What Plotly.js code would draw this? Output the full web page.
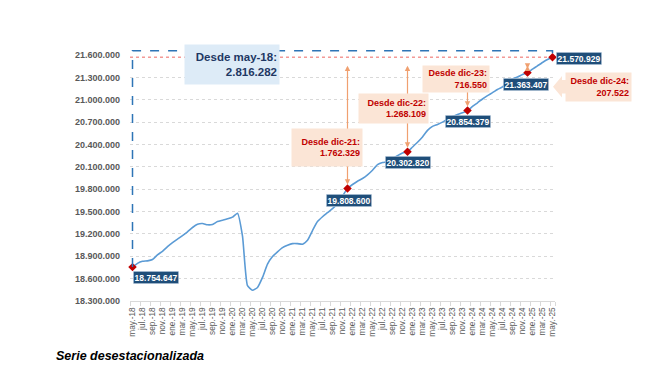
<!DOCTYPE html>
<html>
<head>
<meta charset="utf-8">
<script src="https://cdn.plot.ly/plotly-3.0.1.min.js"></script>
<style>
  html, body { margin: 0; padding: 0; background: #ffffff; }
  #chart { width: 659px; height: 371px; }
</style>
</head>
<body>
<div id="chart"></div>
<script>
// ---------------- DATA ----------------
const months = [
  'may.-18','jun.-18','jul.-18','ago.-18','sep.-18','oct.-18','nov.-18','dic.-18',
  'ene.-19','feb.-19','mar.-19','abr.-19','may.-19','jun.-19','jul.-19','ago.-19','sep.-19','oct.-19','nov.-19','dic.-19',
  'ene.-20','feb.-20','mar.-20','abr.-20','may.-20','jun.-20','jul.-20','ago.-20','sep.-20','oct.-20','nov.-20','dic.-20',
  'ene.-21','feb.-21','mar.-21','abr.-21','may.-21','jun.-21','jul.-21','ago.-21','sep.-21','oct.-21','nov.-21','dic.-21',
  'ene.-22','feb.-22','mar.-22','abr.-22','may.-22','jun.-22','jul.-22','ago.-22','sep.-22','oct.-22','nov.-22','dic.-22',
  'ene.-23','feb.-23','mar.-23','abr.-23','may.-23','jun.-23','jul.-23','ago.-23','sep.-23','oct.-23','nov.-23','dic.-23',
  'ene.-24','feb.-24','mar.-24','abr.-24','may.-24','jun.-24','jul.-24','ago.-24','sep.-24','oct.-24','nov.-24','dic.-24',
  'ene.-25','feb.-25','mar.-25','abr.-25','may.-25'
];

const afiliados = [
  18754647, 18805000, 18832000, 18838000, 18856000, 18920000, 18966000, 19028000,
  19082000, 19130000, 19176000, 19228000, 19286000, 19330000, 19340000, 19322000, 19327000, 19366000, 19384000, 19402000,
  19425000, 19478000, 19170000, 18505000, 18445000, 18482000, 18616000, 18794000, 18896000, 18959000, 19016000, 19048000,
  19070000, 19070000, 19061000, 19115000, 19245000, 19365000, 19430000, 19484000, 19538000, 19609000, 19707000, 19808600,
  19863000, 19907000, 19943000, 19992000, 20054000, 20130000, 20158000, 20166000, 20206000, 20250000, 20286000, 20302820,
  20366000, 20429000, 20500000, 20589000, 20642000, 20669000, 20700000, 20740000, 20776000, 20803000, 20825000, 20854379,
  20910000, 20959000, 21010000, 21055000, 21095000, 21137000, 21173000, 21235000, 21280000, 21305000, 21338000, 21363407,
  21410000, 21455000, 21500000, 21540000, 21570929
];

// highlighted months (reference points)
const hitos = ['may.-18', 'dic.-21', 'dic.-22', 'dic.-23', 'dic.-24', 'may.-25'];
const hitoNombres = ['may-18', 'dic-21', 'dic-22', 'dic-23', 'dic-24'];

const xTickLabels = [
  'may.-18','jul.-18','sep.-18','nov.-18','ene.-19','mar.-19','may.-19','jul.-19','sep.-19','nov.-19',
  'ene.-20','mar.-20','may.-20','jul.-20','sep.-20','nov.-20','ene.-21','mar.-21','may.-21','jul.-21',
  'sep.-21','nov.-21','ene.-22','mar.-22','may.-22','jul.-22','sep.-22','nov.-22','ene.-23','mar.-23',
  'may.-23','jul.-23','sep.-23','nov.-23','ene.-24','mar.-24','may.-24','jul.-24','sep.-24','nov.-24',
  'ene.-25','mar.-25','may.-25'
];

const yTicks = [18300000, 18600000, 18900000, 19200000, 19500000, 19800000, 20100000,
                20400000, 20700000, 21000000, 21300000, 21600000];

const footnote = 'Serie desestacionalizada';

// ---------------- HELPERS ----------------
const ML = 130, MT = 55, W = 425, H = 246, FW = 659, FH = 371;
const Y0 = yTicks[0], Y1 = yTicks[yTicks.length - 1];
const N = months.length;
const px = x => (x - ML) / W;
const py = y => (MT + H - y) / H;
const fmt = n => String(Math.round(n)).replace(/\B(?=(\d{3})+(?!\d))/g, '.');
const idx = m => months.indexOf(m);
const paperX = i => (i + 0.5) / N;
const paperY = v => (v - Y0) / (Y1 - Y0);

const xIdx = months.map((m, i) => i);
const hitoIdx = hitos.map(idx);
const hitoVals = hitoIdx.map(i => afiliados[i]);
const lastVal = afiliados[N - 1];

// ---------------- TRACES ----------------
const traces = [
  {
    type: 'scatter', mode: 'lines',
    x: xIdx, y: afiliados,
    line: { color: '#5B9BD5', width: 1.6, shape: 'spline', smoothing: 0.5 },
    hoverinfo: 'skip', showlegend: false
  },
  {
    type: 'scatter', mode: 'markers',
    x: hitoIdx, y: hitoVals,
    marker: { symbol: 'diamond', size: 6.5, color: '#C00000' },
    cliponaxis: false, hoverinfo: 'skip', showlegend: false
  }
];

// ---------------- SHAPES ----------------
const iFirst = hitoIdx[0], iLast = hitoIdx[hitoIdx.length - 1];
const topY = 1.0175;
const shapes = [
  { type: 'line', xref: 'x', yref: 'y', x0: -0.5, x1: iLast, y0: lastVal, y1: lastVal,
    line: { color: '#E8403A', width: 0.8, dash: 'dot' }, layer: 'below' },
  { type: 'path', xref: 'paper', yref: 'paper',
    path: `M ${paperX(iFirst)},${paperY(afiliados[iFirst])} L ${paperX(iFirst)},${topY} L ${paperX(iLast)},${topY} L ${paperX(iLast)},${paperY(lastVal)}`,
    line: { color: '#2E75B6', width: 1.5, dash: 'dash' } },
  // pointer of the "Desde dic-24" callout
  { type: 'path', xref: 'paper', yref: 'paper',
    path: `M ${px(553)},${py(86.7)} L ${px(562)},${py(76)} L ${px(562)},${py(80)} L ${px(566)},${py(80)} L ${px(566)},${py(93.5)} L ${px(562)},${py(93.5)} L ${px(562)},${py(97.5)} Z`,
    fillcolor: '#FBE5D6', line: { width: 0 } }
];

// ---------------- ANNOTATIONS ----------------
const annotations = [];

// vertical double arrows from last level to each December point
[1, 2, 3, 4].forEach(k => {
  const i = hitoIdx[k];
  annotations.push({
    x: i, y: afiliados[i], xref: 'x', yref: 'y',
    ax: i, ay: lastVal, axref: 'x', ayref: 'y',
    text: ' ', showarrow: true, arrowside: 'end+start',
    arrowhead: 2, startarrowhead: 2, arrowsize: 0.9, startarrowsize: 0.9,
    arrowwidth: 1.2, arrowcolor: '#F0A070', standoff: 4, startstandoff: 0
  });
});

// callout boxes with differences
const callouts = [
  { k: 1, cx: 327, cy: 147, w: 72, h: 37 },
  { k: 2, cx: 393.5, cy: 108, w: 71, h: 29 },
  { k: 3, cx: 455.5, cy: 79, w: 68, h: 26 },
  { k: 4, cx: 598.5, cy: 86.7, w: 67, h: 28 }
];
callouts.forEach(c => {
  const diff = lastVal - afiliados[hitoIdx[c.k]];
  annotations.push({
    xref: 'paper', yref: 'paper', x: px(c.cx), y: py(c.cy),
    xanchor: 'center', yanchor: 'middle',
    text: `Desde ${hitoNombres[c.k]}:<br>${fmt(diff)}`,
    showarrow: false, align: 'right', valign: 'middle',
    width: c.w - 6, height: c.h - 4, borderpad: 2,
    bgcolor: '#FBE5D6',
    font: { family: 'Liberation Sans, Arial, sans-serif', size: 9, color: '#C00000', weight: 'bold' }
  });
});

// big blue callout
annotations.push({
  xref: 'paper', yref: 'paper', x: px(232), y: py(64.5),
  xanchor: 'center', yanchor: 'middle',
  text: `Desde ${hitoNombres[0]}:<br>${fmt(lastVal - afiliados[iFirst])}`,
  showarrow: false, align: 'right', valign: 'middle',
  width: 90, height: 35, borderpad: 2, bgcolor: '#DDEBF7',
  font: { family: 'Liberation Sans, Arial, sans-serif', size: 11.5, color: '#1F3864', weight: 'bold' }
});

// navy value labels
const labelShift = [[23, -10], [1.5, -12], [0.5, -11], [0, -11], [-1.5, -11.5], [26, -1]];
hitoIdx.forEach((i, k) => {
  annotations.push({
    x: i, y: afiliados[i], xref: 'x', yref: 'y',
    xshift: labelShift[k][0], yshift: labelShift[k][1],
    xanchor: 'center', yanchor: 'middle',
    text: fmt(afiliados[i]), showarrow: false,
    bgcolor: '#1F4E79', bordercolor: '#C9D7E6', borderwidth: 0.6, borderpad: 1,
    font: { family: 'Liberation Sans, Arial, sans-serif', size: 8.5, color: '#FFFFFF', weight: 'bold' }
  });
});

// footnote
annotations.push({
  xref: 'paper', yref: 'paper', x: px(130), y: py(356),
  xanchor: 'center', yanchor: 'middle', showarrow: false,
  text: footnote,
  font: { family: 'Liberation Sans, Arial, sans-serif', size: 12.5, color: '#000000', weight: 'bold', style: 'italic' }
});

// ---------------- LAYOUT ----------------
const xTickVals = xTickLabels.map(idx);
const minorVals = xTickVals.map(v => v - 0.5).concat([N - 0.5]);

const layout = {
  width: FW, height: FH,
  margin: { l: ML, r: FW - ML - W, t: MT, b: FH - MT - H, pad: 0 },
  paper_bgcolor: '#FFFFFF', plot_bgcolor: '#FFFFFF',
  separators: ',.',
  showlegend: false,
  font: { family: 'Liberation Sans, Arial, sans-serif', color: '#595959' },
  xaxis: {
    range: [-0.5, N - 0.5], fixedrange: true,
    tickmode: 'array', tickvals: xTickVals, ticktext: xTickLabels,
    tickangle: -90, ticks: '', ticklabelstandoff: 2,
    tickfont: { size: 8.3, color: '#595959' },
    showgrid: false, zeroline: false,
    showline: true, linecolor: '#D9D9D9', linewidth: 1,
    minor: { tickmode: 'array', tickvals: minorVals, ticks: 'outside', ticklen: 4, tickcolor: '#D9D9D9', tickwidth: 1, showgrid: false }
  },
  yaxis: {
    range: [Y0, Y1], fixedrange: true,
    tickmode: 'array', tickvals: yTicks, tickformat: ',d',
    ticks: '', ticklabelstandoff: 9,
    tickfont: { size: 9, color: '#595959', weight: 'bold' },
    showgrid: true, gridcolor: '#D9D9D9', griddash: 'dot', gridwidth: 1,
    zeroline: false, showline: false
  },
  shapes: shapes,
  annotations: annotations
};

Plotly.newPlot('chart', traces, layout, { staticPlot: true, displayModeBar: false });
</script>
</body>
</html>
